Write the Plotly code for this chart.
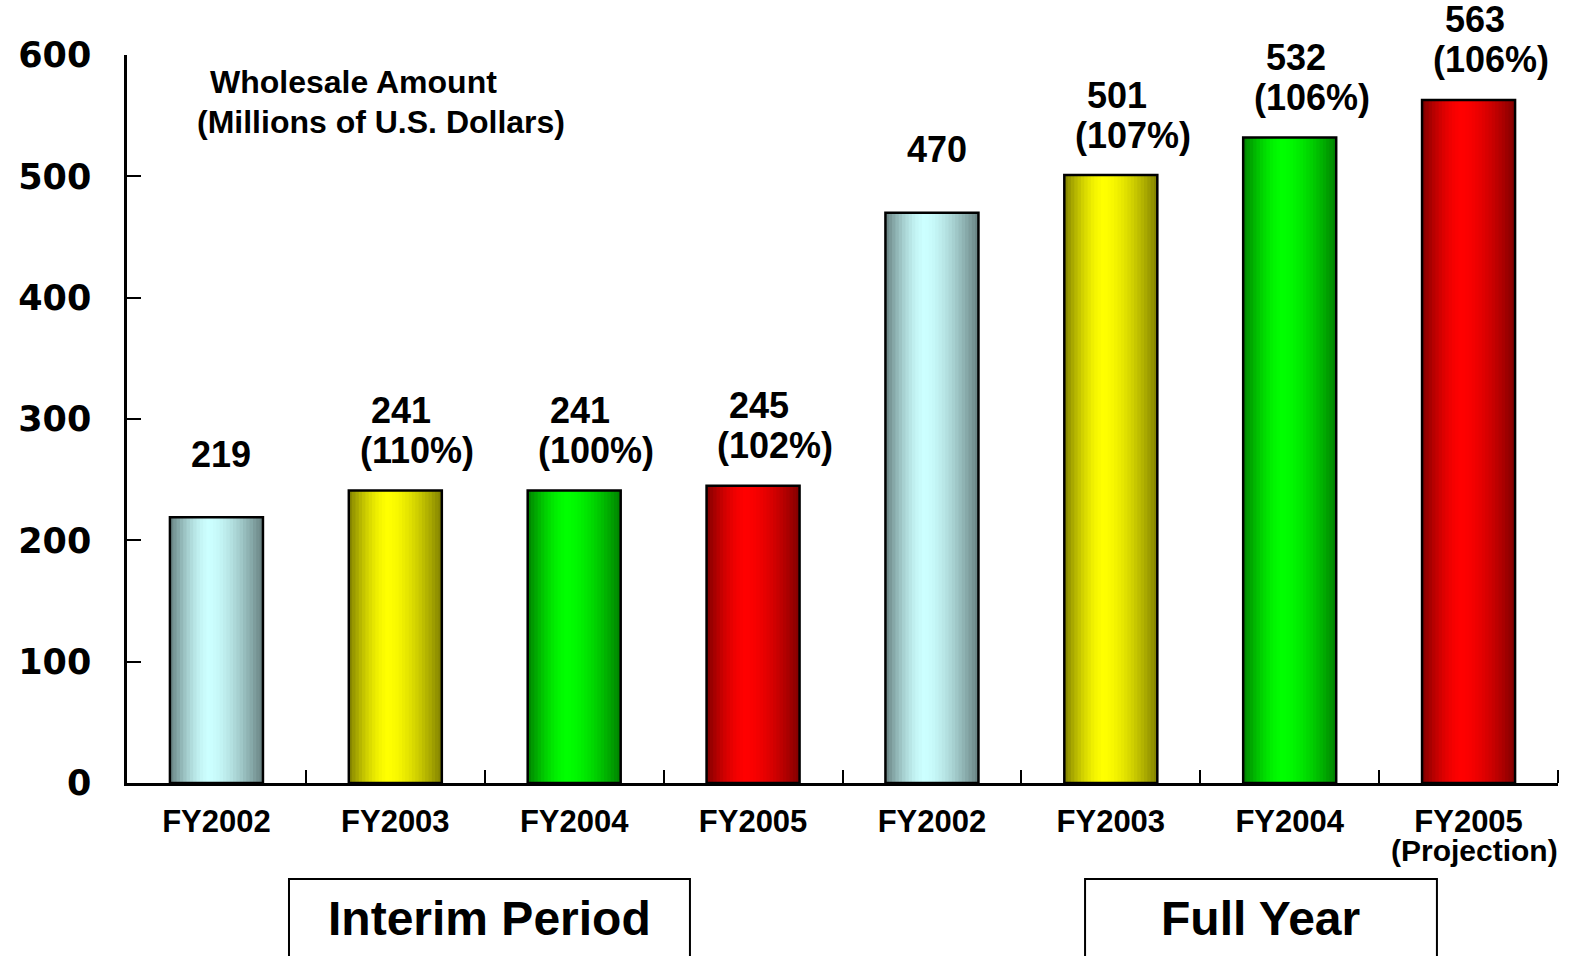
import plotly.graph_objects as go

# ---- data ----
categories = ["FY2002", "FY2003", "FY2004", "FY2005", "FY2002", "FY2003", "FY2004", "FY2005"]
category_notes = ["", "", "", "", "", "", "", "(Projection)"]
values = [219, 241, 241, 245, 470, 501, 532, 563]
growth_pct = [None, 110, 100, 102, None, 107, 106, 106]
period_names = ["Interim Period", "Full Year"]
y_ticks = [0, 100, 200, 300, 400, 500, 600]
bar_colors = ["#CCFFFF", "#FFFF00", "#00FF00", "#FF0000",
              "#CCFFFF", "#FFFF00", "#00FF00", "#FF0000"]

# ---- styling helpers ----
def hex2rgb(h):
    h = h.lstrip("#")
    return [int(h[i:i + 2], 16) for i in (0, 2, 4)]

def shade(hexc, b):
    lt = hex2rgb(hexc)
    dk = [c * 0.5 for c in lt]
    r, g, bl = [round(d + (l - d) * b) for d, l in zip(dk, lt)]
    return f"rgb({r},{g},{bl})"

x = list(range(len(values)))
BAR_W = 0.52
N = 28
PEAK = 0.42
sw = BAR_W / N

fig = go.Figure()
for i in range(N):
    t = (i + 0.5) / N
    d = (t - PEAK) / PEAK if t < PEAK else (t - PEAK) / (1 - PEAK)
    b = 1 - abs(d) ** 1.6
    w = sw if i == N - 1 else sw * 1.3
    fig.add_trace(go.Bar(
        x=x, y=values, width=w, offset=-BAR_W / 2 + i * sw,
        marker=dict(color=[shade(c, b) for c in bar_colors], line=dict(width=0)),
        hoverinfo="skip", showlegend=False,
    ))
# outline
fig.add_trace(go.Bar(
    x=x, y=values, width=BAR_W,
    marker=dict(color="rgba(0,0,0,0)", line=dict(color="black", width=2.5)),
    hoverinfo="skip", showlegend=False,
))

FAM = "Liberation Sans"
LABEL_FONT = dict(family=FAM, size=36, color="black", weight="bold")
annotations = []
for xi, v, g in zip(x, values, growth_pct):
    if g is None:
        annotations.append(dict(x=xi, y=v, text=f"{v}", showarrow=False, yanchor="middle",
                                yshift=63, xshift=5, font=LABEL_FONT))
    else:
        annotations.append(dict(x=xi, y=v, text=f"{v}", showarrow=False, yanchor="middle",
                                yshift=80, xshift=6, font=LABEL_FONT))
        annotations.append(dict(x=xi, y=v, text=f"({g}%)", showarrow=False, yanchor="middle",
                                yshift=40, xshift=22, font=LABEL_FONT))

for xi, note in zip(x, category_notes):
    if note:
        annotations.append(dict(x=xi, xref="x", y=0, yref="paper", text=note, showarrow=False,
                                yanchor="middle", yshift=-67, xshift=6,
                                font=dict(family=FAM, size=30, color="black", weight="bold")))

# axis caption
CAP_FONT = dict(family=FAM, size=32, color="black", weight="bold")
annotations.append(dict(x=0.0566, y=0.9629, xref="paper", yref="paper", xanchor="left", yanchor="middle",
                        text="Wholesale Amount", showarrow=False, font=CAP_FONT))
annotations.append(dict(x=0.0475, y=0.908, xref="paper", yref="paper", xanchor="left", yanchor="middle",
                        text="(Millions of U.S. Dollars)", showarrow=False, font=CAP_FONT))

# period boxes
BOX_FONT = dict(family=FAM, size=48, color="black", weight="bold")
box_pos = [(0.1132, 0.3934), (0.6695, 0.9154)]
shapes = []
for name, (x0, x1) in zip(period_names, box_pos):
    shapes.append(dict(type="rect", xref="paper", yref="paper", x0=x0, x1=x1, y0=-0.1319, y1=-0.27,
                       line=dict(color="black", width=2), fillcolor="rgba(0,0,0,0)"))
    annotations.append(dict(x=(x0 + x1) / 2, y=-0.1868, xref="paper", yref="paper", text=name,
                            showarrow=False, xanchor="center", yanchor="middle", font=BOX_FONT))

fig.update_layout(
    width=1569, height=956,
    margin=dict(l=127, r=11, t=55, b=173),
    paper_bgcolor="white", plot_bgcolor="white",
    barmode="overlay", showlegend=False,
    xaxis=dict(range=[-0.5, 7.5], tickvals=x, ticktext=categories, ticks="",
               showline=True, linecolor="black", linewidth=2.5, showgrid=False, zeroline=False,
               tickfont=dict(family=FAM, size=31, color="black", weight="bold"),
               ticklabelstandoff=9,
               minor=dict(tickvals=[xi + 0.5 for xi in x], ticks="inside", ticklen=13,
                          tickwidth=2, tickcolor="black", showgrid=False)),
    yaxis=dict(range=[0, 600], tickvals=y_ticks, ticks="inside", ticklen=14, tickwidth=2,
               tickcolor="black", showline=True, linecolor="black", linewidth=2.5,
               showgrid=False, zeroline=False, ticklabelstandoff=26,
               tickfont=dict(family="DejaVu Sans", size=35, color="black", weight="bold")),
    annotations=annotations,
    shapes=shapes,
)

fig.write_html("out.html")
